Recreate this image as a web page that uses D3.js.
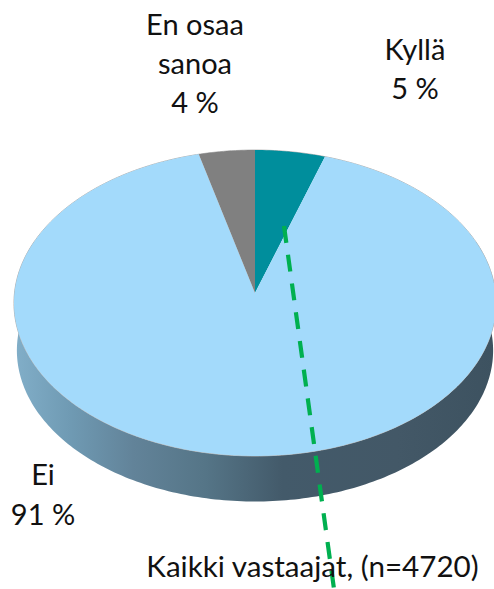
<!DOCTYPE html>
<html><head><meta charset="utf-8">
<script src="https://cdnjs.cloudflare.com/ajax/libs/d3/7.8.5/d3.min.js"></script>
<style>html,body{margin:0;padding:0;background:#fff}svg{display:block}text{font-family:Lato,Carlito,sans-serif;fill:#111}</style>
</head><body><div id="c"></div>
<script>
const categories=["Kyllä","Ei","En osaa sanoa"];
const shares=[5,91,4];
const shareColors=["#008E9C","#A3DAFB","#808080"];
const caption="Kaikki vastaajat, (n=4720)";
const W=494,H=589;
const cx=255,cy=293;
const radiusX=240.5,radiusY=152.3,tilt=0.0654,depth=47.5,baseScale=0.988;
const project=(a,s=1)=>{
  const d=1+tilt*Math.cos(a);
  return [cx+s*radiusX*Math.sin(a)/d, cy-s*radiusY*Math.cos(a)/d];
};
const svg=d3.select("#c").append("svg").attr("width",W).attr("height",H).attr("viewBox",[0,0,W,H]);
const defs=svg.append("defs");
const g=defs.append("linearGradient").attr("id","side").attr("gradientUnits","userSpaceOnUse")
  .attr("x1",13).attr("x2",494).attr("y1",0).attr("y2",0);
[[0,"#82AFC9"],[0.12,"#6F9AB3"],[0.25,"#628399"],[0.4,"#557587"],[0.56,"#435A6A"],[0.8,"#435867"],[1,"#3D5260"]]
 .forEach(([o,c])=>g.append("stop").attr("offset",o).attr("stop-color",c));
const line=d3.line();
const fullAngles=d3.range(0,361,1).map(d=>d*Math.PI/180);
const sideAngles=d3.range(70,291,1).map(d=>d*Math.PI/180);
const sidePts=sideAngles.map(a=>project(a)).concat(sideAngles.slice().reverse().map(a=>{
  const p=project(a,baseScale);return [p[0],p[1]+depth];}));
svg.append("path").attr("d",line(sidePts)+"Z").attr("fill","url(#side)");
svg.append("path").attr("d",line(fullAngles.map(a=>project(a)))+"Z").attr("fill","none").attr("stroke","#B4B4B4").attr("stroke-width",1);
const pie=d3.pie().sort(null)(shares);
svg.selectAll("path.slice").data(pie).join("path").attr("class","slice")
  .attr("fill",(d,i)=>shareColors[i])
  .attr("d",d=>{
    const n=Math.max(2,Math.ceil((d.endAngle-d.startAngle)*60));
    const pts=d3.range(n+1).map(i=>project(d.startAngle+(d.endAngle-d.startAngle)*i/n));
    return line([[cx,cy],...pts])+"Z";
  });
svg.append("line").attr("x1",284).attr("y1",226).attr("x2",334).attr("y2",589)
  .attr("stroke","#00B050").attr("stroke-width",4.2).attr("stroke-dasharray","17 12");
const fs=29;
const label=(x,ys,lines)=>lines.forEach((t,i)=>svg.append("text").attr("x",x).attr("y",ys[i]).attr("text-anchor","middle").attr("font-size",fs).text(t));
label(195,[35,74,113],["En osaa","sanoa",shares[2]+" %"]);
label(415,[60,99],[categories[0],shares[0]+" %"]);
label(43,[485,525],[categories[1],shares[1]+" %"]);
svg.append("text").attr("x",312.5).attr("y",577).attr("text-anchor","middle").attr("font-size",29.6).text(caption);
</script></body></html>
